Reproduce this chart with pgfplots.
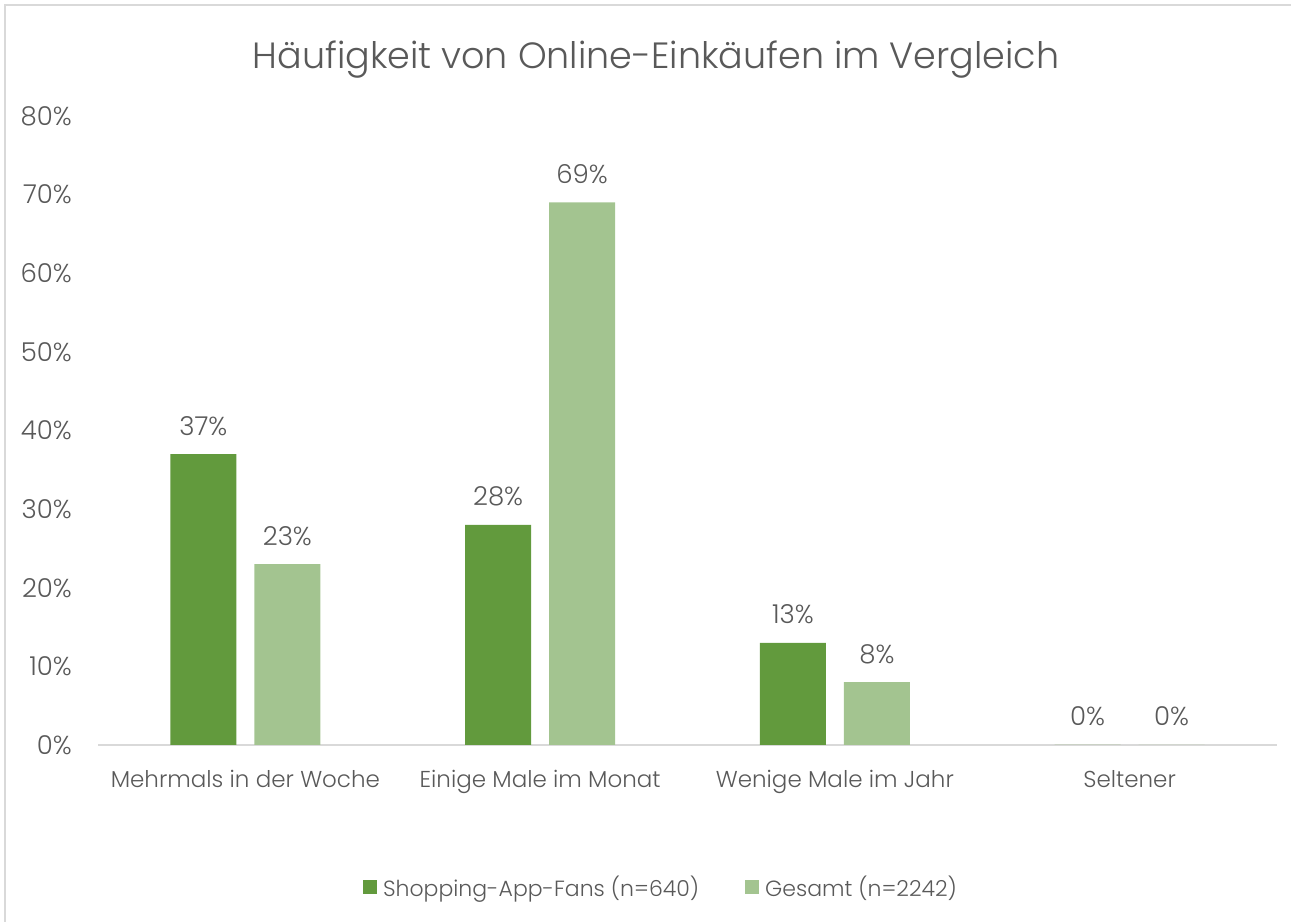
\documentclass[border=0pt]{standalone}
\usepackage{fontspec}
\setmainfont{Poppins Light}
\usepackage{pgfplots}
\pgfplotsset{compat=1.18}
\definecolor{darkg}{HTML}{629A3D}
\definecolor{lightg}{HTML}{A3C490}
\definecolor{txt}{HTML}{595959}
\definecolor{frame}{HTML}{D9D9D9}
\newcommand{\sz}{\fontsize{23bp}{27bp}\selectfont}
\newcommand{\szb}{\fontsize{26bp}{30bp}\selectfont}
\begin{document}
\begin{tikzpicture}[x=1bp,y=1bp]
\useasboundingbox (0,0) rectangle (1291,922);
\draw[frame, line width=2bp] (5,0) -- (5,917) -- (1291,917);
\node[txt, font=\fontsize{36.5bp}{42bp}\selectfont] at (656,862) {Häufigkeit von Online-Einkäufen im Vergleich};
\begin{axis}[
    at={(98bp,177bp)}, anchor=south west,
    scale only axis,
    width=1179bp, height=629bp,
    ybar=18bp, bar width=66bp,
    xmin=-0.5, xmax=3.5,
    ymin=0, ymax=80,
    xtick=data,
    xticklabels={Mehrmals in der Woche, Einige Male im Monat, Wenige Male im Jahr, Seltener},
    ytick={0,10,...,80},
    yticklabel={\pgfmathprintnumber{\tick}\%},
    /pgf/number format/assume math mode=true,
    axis lines*=left,
    x axis line style={draw=frame, line width=1.5bp, -},
    y axis line style={draw=none},
    major tick length=0pt,
    ticklabel style={text=txt, inner sep=0pt},
    xticklabel style={font=\sz, anchor=base, yshift=-43bp},
    yticklabel style={font=\szb, anchor=east, xshift=-26bp},
    nodes near coords={\pgfmathprintnumber{\pgfplotspointmeta}\%},
    every node near coord/.append style={font=\szb, text=txt, anchor=base, inner sep=0pt, yshift=19bp},
    legend columns=2,
    legend style={at={(0.4767,-0.2258)}, anchor=center, draw=none, fill=none,
        font=\fontsize{22bp}{26bp}\selectfont, text=txt,
        nodes={inner sep=0pt},
        /tikz/every even column/.append style={column sep=46bp}},
    legend image code/.code={\fill[#1, draw=none] (0bp,-7bp) rectangle (14bp,7bp); \path (20bp,0bp);},
]
\addplot[fill=darkg, draw=none] coordinates {(0,37) (1,28) (2,13) (3,0)};
\addplot[fill=lightg, draw=none] coordinates {(0,23) (1,69) (2,8) (3,0)};
\legend{Shopping-App-Fans (n=640), Gesamt (n=2242)}
\end{axis}
\end{tikzpicture}
\end{document}
